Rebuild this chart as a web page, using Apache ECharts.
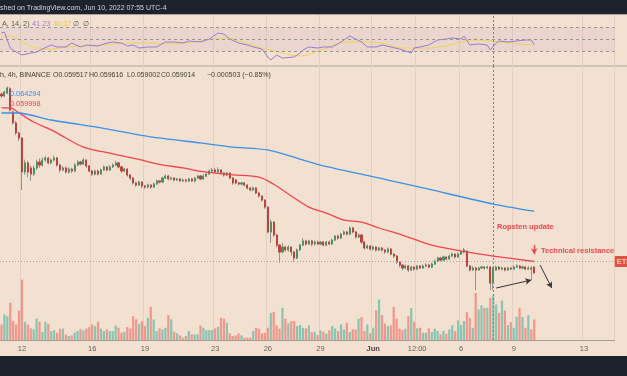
<!DOCTYPE html>
<html>
<head>
<meta charset="utf-8">
<script src="https://cdn.jsdelivr.net/npm/echarts@6/dist/echarts.min.js"></script>
<style>
  html, body { margin: 0; padding: 0; background: #f2e0d1; }
  #chart { width: 627px; height: 376px; }
</style>
</head>
<body>
<div id="chart"></div>
<script>
// ETH/BTC 4h, Binance. One category per 4h bar, first bar 2022-05-10 20:00 (UTC-4)
const N_CAT = 210;
const categories = [];
for (let i = 0; i < N_CAT; i++) {
  const d = new Date(Date.UTC(2022, 4, 10, 20) + i * 4 * 3600 * 1000);
  categories.push((d.getUTCMonth() + 1) + '/' + d.getUTCDate() + ' ' + d.getUTCHours() + ':00');
}
const tickIndex = [7, 31, 49, 73, 91, 109, 127, 142, 157, 175, 199];
const tickText = ['12', '16', '19', '23', '26', '29', 'Jun', '12:00', '6', '9', '13'];

// [open, close, low, high]
const ohlc = [
  [0.07430,0.07415,0.07400,0.07445],[0.07415,0.07449,0.07405,0.07460],[0.07440,0.07483,0.07430,0.07495],
  [0.07475,0.07295,0.07280,0.07490],[0.07278,0.07184,0.07170,0.07290],[0.07184,0.07098,0.07080,0.07200],
  [0.07098,0.07055,0.07030,0.07110],[0.07055,0.06765,0.06611,0.07060],[0.06765,0.06842,0.06740,0.06870],
  [0.06842,0.06765,0.06720,0.06860],[0.06799,0.06747,0.06690,0.06820],[0.06747,0.06799,0.06730,0.06820],
  [0.06799,0.06850,0.06780,0.06870],[0.06850,0.06824,0.06800,0.06880],[0.06824,0.06867,0.06810,0.06890],
  [0.06867,0.06884,0.06850,0.06900],[0.06884,0.06842,0.06830,0.06895],[0.06842,0.06867,0.06830,0.06880],
  [0.06867,0.06884,0.06855,0.06905],[0.06884,0.06824,0.06810,0.06895],[0.06824,0.06782,0.06760,0.06835],
  [0.06782,0.06799,0.06770,0.06815],[0.06799,0.06765,0.06750,0.06810],[0.06765,0.06790,0.06750,0.06805],
  [0.06790,0.06773,0.06755,0.06800],[0.06773,0.06824,0.06765,0.06840],[0.06824,0.06850,0.06815,0.06865],
  [0.06850,0.06833,0.06820,0.06860],[0.06833,0.06867,0.06825,0.06885],[0.06867,0.06816,0.06800,0.06875],
  [0.06816,0.06773,0.06760,0.06825],[0.06773,0.06747,0.06730,0.06785],[0.06747,0.06773,0.06735,0.06785],
  [0.06773,0.06747,0.06735,0.06785],[0.06747,0.06782,0.06740,0.06795],[0.06782,0.06808,0.06775,0.06820],
  [0.06808,0.06782,0.06770,0.06815],[0.06782,0.06808,0.06775,0.06825],[0.06808,0.06824,0.06800,0.06840],
  [0.06824,0.06842,0.06815,0.06860],[0.06842,0.06808,0.06795,0.06850],[0.06808,0.06773,0.06760,0.06815],
  [0.06773,0.06790,0.06765,0.06800],[0.06790,0.06739,0.06725,0.06795],[0.06739,0.06713,0.06695,0.06745],
  [0.06713,0.06671,0.06655,0.06720],[0.06671,0.06653,0.06640,0.06680],[0.06653,0.06679,0.06645,0.06690],
  [0.06679,0.06645,0.06625,0.06685],[0.06645,0.06636,0.06620,0.06655],[0.06636,0.06653,0.06625,0.06665],
  [0.06653,0.06636,0.06620,0.06660],[0.06636,0.06662,0.06630,0.06675],[0.06662,0.06688,0.06655,0.06700],
  [0.06688,0.06679,0.06665,0.06695],[0.06679,0.06713,0.06670,0.06725],[0.06713,0.06730,0.06705,0.06745],
  [0.06730,0.06705,0.06695,0.06740],[0.06705,0.06713,0.06695,0.06725],[0.06713,0.06696,0.06685,0.06720],
  [0.06696,0.06705,0.06690,0.06715],[0.06705,0.06688,0.06680,0.06715],[0.06688,0.06696,0.06680,0.06710],
  [0.06696,0.06688,0.06675,0.06705],[0.06688,0.06705,0.06680,0.06715],[0.06705,0.06688,0.06680,0.06715],
  [0.06688,0.06713,0.06680,0.06720],[0.06713,0.06730,0.06705,0.06740],[0.06730,0.06705,0.06695,0.06740],
  [0.06705,0.06730,0.06700,0.06745],[0.06730,0.06747,0.06720,0.06760],[0.06747,0.06773,0.06740,0.06785],
  [0.06773,0.06782,0.06765,0.06800],[0.06782,0.06765,0.06755,0.06800],[0.06765,0.06782,0.06755,0.06805],
  [0.06782,0.06756,0.06745,0.06790],[0.06756,0.06739,0.06725,0.06765],[0.06739,0.06756,0.06730,0.06765],
  [0.06756,0.06713,0.06705,0.06760],[0.06713,0.06671,0.06655,0.06720],[0.06696,0.06671,0.06660,0.06705],
  [0.06671,0.06662,0.06650,0.06680],[0.06662,0.06671,0.06650,0.06680],[0.06671,0.06653,0.06640,0.06680],
  [0.06653,0.06628,0.06615,0.06660],[0.06628,0.06611,0.06600,0.06635],[0.06611,0.06628,0.06600,0.06640],
  [0.06628,0.06585,0.06575,0.06635],[0.06585,0.06559,0.06545,0.06595],[0.06559,0.06525,0.06510,0.06565],
  [0.06525,0.06465,0.06450,0.06530],[0.06465,0.06252,0.06240,0.06470],[0.06252,0.06337,0.06158,0.06360],
  [0.06337,0.06226,0.06210,0.06345],[0.06226,0.06140,0.06120,0.06235],[0.06140,0.06081,0.05987,0.06150],
  [0.06081,0.06123,0.06070,0.06160],[0.06123,0.06098,0.06085,0.06135],[0.06098,0.06123,0.06085,0.06140],
  [0.06123,0.06081,0.06050,0.06130],[0.06081,0.06029,0.06000,0.06090],[0.06029,0.06098,0.06020,0.06110],
  [0.06098,0.06140,0.06090,0.06150],[0.06140,0.06175,0.06130,0.06200],[0.06175,0.06149,0.06135,0.06185],
  [0.06149,0.06175,0.06140,0.06185],[0.06175,0.06149,0.06130,0.06185],[0.06149,0.06166,0.06135,0.06180],
  [0.06166,0.06149,0.06140,0.06180],[0.06149,0.06166,0.06140,0.06175],[0.06166,0.06140,0.06130,0.06175],
  [0.06140,0.06166,0.06130,0.06175],[0.06166,0.06149,0.06140,0.06180],[0.06149,0.06183,0.06140,0.06195],
  [0.06183,0.06217,0.06175,0.06225],[0.06217,0.06200,0.06185,0.06230],[0.06200,0.06234,0.06190,0.06245],
  [0.06234,0.06252,0.06225,0.06265],[0.06252,0.06234,0.06220,0.06260],[0.06234,0.06286,0.06225,0.06300],
  [0.06286,0.06252,0.06240,0.06295],[0.06252,0.06209,0.06195,0.06260],[0.06209,0.06226,0.06200,0.06240],
  [0.06226,0.06166,0.06150,0.06235],[0.06166,0.06115,0.06100,0.06175],[0.06115,0.06132,0.06105,0.06145],
  [0.06132,0.06106,0.06095,0.06140],[0.06106,0.06123,0.06095,0.06135],[0.06123,0.06098,0.06085,0.06130],
  [0.06098,0.06115,0.06090,0.06125],[0.06115,0.06098,0.06085,0.06125],[0.06098,0.06081,0.06065,0.06105],
  [0.06081,0.06106,0.06070,0.06120],[0.06106,0.06063,0.06050,0.06115],[0.06063,0.06046,0.06030,0.06070],
  [0.06046,0.05995,0.05980,0.06055],[0.05995,0.05969,0.05950,0.06000],[0.05969,0.05944,0.05925,0.05975],
  [0.05944,0.05961,0.05935,0.05975],[0.05961,0.05927,0.05910,0.05970],[0.05927,0.05952,0.05920,0.05965],
  [0.05952,0.05935,0.05920,0.05960],[0.05935,0.05961,0.05925,0.05970],[0.05961,0.05944,0.05935,0.05970],
  [0.05944,0.05961,0.05935,0.05975],[0.05961,0.05969,0.05950,0.05985],[0.05969,0.05952,0.05940,0.05980],
  [0.05952,0.05978,0.05945,0.05990],[0.05978,0.06004,0.05970,0.06015],[0.06004,0.06029,0.05995,0.06040],
  [0.06029,0.06012,0.06000,0.06040],[0.06012,0.06038,0.06005,0.06050],[0.06038,0.06021,0.06010,0.06045],
  [0.06021,0.06046,0.06015,0.06060],[0.06046,0.06063,0.06035,0.06075],[0.06063,0.06038,0.06025,0.06070],
  [0.06038,0.06063,0.06030,0.06075],[0.06063,0.06081,0.06055,0.06095],[0.06081,0.06098,0.06070,0.06115],
  [0.06089,0.05961,0.05950,0.06095],[0.05961,0.05927,0.05915,0.05970],[0.05927,0.05944,0.05920,0.05960],
  [0.05944,0.05927,0.05756,0.05955],[0.05927,0.05944,0.05920,0.05955],[0.05944,0.05952,0.05935,0.05965],
  [0.05952,0.05944,0.05930,0.05960],[0.05944,0.05952,0.05935,0.05965],[0.05952,0.05815,0.05756,0.05960],
  [0.05815,0.05944,0.05756,0.05955],[0.05927,0.05952,0.05920,0.05965],[0.05952,0.05935,0.05925,0.05960],
  [0.05935,0.05944,0.05925,0.05955],[0.05944,0.05927,0.05915,0.05950],[0.05927,0.05944,0.05920,0.05955],
  [0.05944,0.05935,0.05925,0.05950],[0.05935,0.05952,0.05930,0.05965],[0.05952,0.05961,0.05945,0.05975],
  [0.05961,0.05944,0.05935,0.05970],[0.05944,0.05952,0.05935,0.05965],[0.05952,0.05935,0.05925,0.05960],
  [0.05935,0.05944,0.05930,0.05960],[0.05944,0.05935,0.05841,0.05960],[0.059517,0.059014,0.059002,0.059616]
];

// volume per bar (k ETH)
const volumes = [
  47,77,72,112,57,47,89,182,55,47, 35,32,64,55,24,55,49,27,30,22,
  34,34,17,12,14,22,27,32,29,34, 39,47,42,55,34,27,32,27,27,44,
  37,22,25,39,34,72,62,49,57,42, 67,100,62,27,35,32,37,75,62,25,
  20,14,7,12,27,17,17,17,44,37, 30,30,30,35,40,67,64,52,20,12,
  14,20,14,7,7,7,27,37,34,20, 22,37,82,85,44,34,97,64,50,57,
  57,42,
  45,37,35,44,24,25,15,29,25,19, 29,42,35,27,47,32,52,24,32,32,
  64,69,27,47,20,37,90,122,75,49, 42,44,100,64,34,30,34,72,96,55,
  35,37,22,22,35,24,34,27,17,27, 19,32,44,27,59,45,57,84,67,37,
  142,92,105,97,97,127,135,107,82,119, 89,45,54,37,70,97,69,37,75,32,
  62
];

// RSI(14) and its SMA, [bar index, value]
const rsi = [
  [0,60.5],[1,62],[3,35.5],[5,28.8],[7,23.8],[10,27.2],[12,28.8],[14,33.8],[17,40.5],[19,37.2],
  [22,37.2],[24,43.8],[27,37.2],[29,40.5],[33,38.8],[36,43.8],[38,45.5],[41,43.8],[43,38.8],[45,40.5],
  [47,35.5],[50,37.2],[53,37.2],[56,45.5],[59,45.5],[62,43.8],[64,47.2],[68,45.5],[71,50.5],[72,53.8],
  [74,60.5],[76,58.8],[78,50.5],[81,43.8],[84,40.5],[86,37.2],[89,33.8],[91,20.5],[92,15.5],[94,23.8],
  [96,18.8],[100,20.5],[102,27.2],[103,32.2],[105,37.2],[108,35.5],[110,37.2],[113,37.2],[116,45.5],[119,55.5],
  [121,50.5],[123,45.5],[125,37.2],[128,37.2],[130,40.5],[133,37.2],[136,33.8],[140,27.2],[141,35.5],[143,37.2],
  [146,40.5],[149,48.8],[152,50.5],[154,52.2],[157,50.5],[158,55.5],[160,40.5],[163,42.2],[166,40.5],[167,32.2],
  [169,43.8],[170,47.2],[173,45.5],[176,47.2],[179,48.8],[181,48.8],[182,41.23]
];
const rsiMa = [
  [0,52.2],[3,55.5],[6,48.8],[11,37.2],[17,33.8],[22,37.2],[34,40.5],[43,43.8],[51,43.8],[57,42.2],
  [63,43.8],[70,48.8],[77,52.2],[82,45.5],[89,35.5],[96,27.2],[102,22.2],[109,32.2],[116,43.8],[122,45.5],
  [130,43.8],[137,35.5],[144,35.5],[150,37.2],[157,45.5],[161,48.8],[167,47.2],[173,43.8],[182,40.07]
];

// moving averages, [bar index, price]
const ema50 = [
  [0,0.07312],[3,0.07312],[6,0.07269],[11,0.07192],[17,0.07124],[22,0.07055],[28,0.06978],[34,0.06940],
  [45,0.06884],[54,0.06830],[62,0.06799],[68,0.06770],[79,0.06740],[88,0.06720],[93,0.06660],[99,0.06560],
  [105,0.06465],[111,0.06414],[117,0.06354],[123,0.06337],[129,0.06286],[136,0.06234],[147,0.06140],
  [159,0.06081],[168,0.06046],[182,0.059998]
];
const ema200 = [
  [0,0.07269],[6,0.07269],[17,0.07209],[34,0.07141],[51,0.07064],[68,0.07013],[79,0.06978],[91,0.06953],
  [109,0.06824],[132,0.06696],[147,0.06611],[168,0.06491],[182,0.064294]
];

const lastClose = 0.059014;
const eventBar = 168;   // Ropsten update

const UP = '#4c9067', DOWN = '#bb433a';
const VUP = '#86c5b1', VDOWN = '#f3958a';
const FONT = 'Liberation Sans';
const TXT = '#45413e';

const bodies = ohlc.map(d => [d[0], d[1], Math.min(d[0], d[1]), Math.max(d[0], d[1])]);
const volData = volumes.map((v, i) => ({
  value: v,
  itemStyle: { color: ohlc[i] && ohlc[i][1] >= ohlc[i][0] ? VUP : VDOWN },
}));
const isTick = i => tickIndex.indexOf(i) >= 0;

function label(x, y, text, fill, extra) {
  return { type: 'text', x: x, y: y, z: 10,
    style: Object.assign({ text: text, fill: fill, fontSize: 7, fontFamily: FONT, verticalAlign: 'middle' }, extra || {}) };
}

const chart = echarts.init(document.getElementById('chart'), null, { renderer: 'canvas' });

chart.setOption({
  backgroundColor: '#f2e0d1',
  animation: false,
  grid: [
    { left: 0, right: 12.3, top: 66, bottom: 36 },   // price
    { left: 0, right: 12.3, top: 15, height: 51 },   // rsi
    { left: 0, right: 12.3, top: 279, bottom: 36 },  // volume
  ],
  xAxis: [
    {
      type: 'category', gridIndex: 0, data: categories,
      axisLine: { lineStyle: { color: '#a59d96', width: 1 } },
      axisTick: { show: false },
      axisLabel: {
        interval: (i) => isTick(i), margin: 5,
        color: '#67625e', fontSize: 7.5, fontFamily: FONT,
        formatter: (v, i) => {
          const t = tickText[tickIndex.indexOf(i)];
          return t === 'Jun' ? '{b|Jun}' : t;
        },
        rich: { b: { fontWeight: 'bold', color: '#4a4541', fontSize: 7.5, fontFamily: FONT } },
      },
      splitLine: { show: true, interval: (i) => isTick(i), lineStyle: { color: 'rgba(228,208,194,1)', width: 1 } },
    },
    {
      type: 'category', gridIndex: 1, data: categories,
      axisLine: { show: false }, axisTick: { show: false }, axisLabel: { show: false },
      splitLine: { show: true, interval: (i) => isTick(i), lineStyle: { color: 'rgba(228,208,194,1)', width: 1 } },
    },
    {
      type: 'category', gridIndex: 2, data: categories,
      axisLine: { show: false }, axisTick: { show: false }, axisLabel: { show: false }, splitLine: { show: false },
    },
  ],
  yAxis: [
    { type: 'value', gridIndex: 0, min: 0.053287, max: 0.076706, show: false },
    { type: 'value', gridIndex: 1, min: 5.5, max: 90.5, show: false },
    { type: 'value', gridIndex: 2, min: 0, max: 184, show: false },
  ],
  series: [
    {
      name: 'Volume', type: 'bar', xAxisIndex: 2, yAxisIndex: 2,
      data: volData, barWidth: 2.2, z: 1,
    },
    {
      name: 'wicks', type: 'candlestick', xAxisIndex: 0, yAxisIndex: 0,
      data: ohlc, barWidth: 1.6, z: 2,
      itemStyle: { color: '#969391', color0: '#969391', borderColor: '#969391', borderColor0: '#969391', borderWidth: 1 },
      markLine: {
        silent: true, symbol: ['none', 'none'],
        data: [
          {
            yAxis: lastClose,
            lineStyle: { type: [1, 2], color: '#a8a099', width: 1 },
            label: {
              show: true, position: 'end', distance: 0, formatter: 'ETHBTC',
              backgroundColor: '#e0513f', color: '#fff', fontSize: 7.5, fontFamily: FONT,
              padding: [2, 2, 1, 2], borderRadius: 1,
            },
          },
          {
            xAxis: categories[eventBar],
            lineStyle: { type: [2, 2], color: '#f0505c', width: 1 },
            label: { show: false },
          },
        ],
      },
    },
    {
      name: 'ETHBTC', type: 'candlestick', xAxisIndex: 0, yAxisIndex: 0,
      data: bodies, barWidth: 1.6, z: 3,
      itemStyle: { color: UP, color0: DOWN, borderColor: UP, borderColor0: DOWN, borderWidth: 1 },
    },
    {
      name: 'EMA 50', type: 'line', xAxisIndex: 0, yAxisIndex: 0,
      data: ema50, smooth: 0.3, showSymbol: false, z: 4,
      lineStyle: { color: '#f2434f', width: 1.3 },
    },
    {
      name: 'EMA 200', type: 'line', xAxisIndex: 0, yAxisIndex: 0,
      data: ema200, smooth: 0.2, showSymbol: false, z: 4,
      lineStyle: { color: '#3a90ea', width: 1.3 },
    },
    {
      name: 'annotations', type: 'line', xAxisIndex: 0, yAxisIndex: 0, data: [], z: 5,
      markLine: {
        silent: true, symbol: ['none', 'arrow'], symbolSize: [5, 6], label: { show: false },
        data: [
          [{ coord: [categories[169], 0.05773], lineStyle: { color: '#333', width: 1, type: 'solid' } },
           { coord: [categories[181], 0.05841] }],
          [{ coord: [categories[184], 0.05969], lineStyle: { color: '#333', width: 1, type: 'solid' } },
           { coord: [categories[188], 0.05773] }],
          [{ coord: [categories[182], 0.06142], lineStyle: { color: '#f0454f', width: 1.3, type: 'solid' } },
           { coord: [categories[182], 0.06062] }],
        ],
      },
    },
    {
      name: 'RSI', type: 'line', xAxisIndex: 1, yAxisIndex: 1,
      data: rsi, showSymbol: false, z: 4,
      lineStyle: { color: '#9a7bd6', width: 1 },
      markArea: {
        silent: true, itemStyle: { color: 'rgba(150,100,190,0.08)' },
        data: [[{ yAxis: 30 }, { yAxis: 70 }]],
      },
      markLine: {
        silent: true, symbol: ['none', 'none'], label: { show: false },
        data: [
          { yAxis: 70, lineStyle: { type: [3, 3], color: '#9c948e', width: 1 } },
          { yAxis: 50, lineStyle: { type: [3, 3], color: '#9c948e', width: 1 } },
          { yAxis: 30, lineStyle: { type: [3, 3], color: '#9c948e', width: 1 } },
          { xAxis: categories[eventBar], lineStyle: { type: [2, 2], color: '#f0505c', width: 1 } },
        ],
      },
    },
    {
      name: 'RSI MA', type: 'line', xAxisIndex: 1, yAxisIndex: 1,
      data: rsiMa, smooth: 0.4, showSymbol: false, z: 3,
      lineStyle: { color: '#f0d455', width: 1 },
    },
  ],
  graphic: [
    { type: 'rect', shape: { x: 0, y: 0, width: 627, height: 14 }, style: { fill: '#1e222d' } },
    { type: 'line', shape: { x1: 0, y1: 14.5, x2: 627, y2: 14.5 }, style: { stroke: '#aaa39c', lineWidth: 1 } },
    { type: 'line', shape: { x1: 0, y1: 66, x2: 627, y2: 66 }, style: { stroke: '#a9a29b', lineWidth: 1 } },
    { type: 'rect', shape: { x: 0, y: 356, width: 627, height: 20 }, style: { fill: '#1e222d' } },
    label(0, 8, 'shed on TradingView.com, Jun 10, 2022 07:55 UTC-4', '#d1d4dc'),

    label(2, 24, 'A, 14, 2)', '#5e5954', { fontSize: 7.3 }),
    label(32, 24, '41.23', '#9a7bd6', { fontSize: 7.3 }),
    label(53, 24, '40.07', '#e8c945', { fontSize: 7.3 }),
    label(73, 24, '∅  ∅', '#5e5954', { fontSize: 7.3 }),

    label(0, 75, 'h, 4h, BINANCE', TXT),
    label(53, 75, 'O0.059517', TXT),
    label(89, 75, 'H0.059616', TXT),
    label(127, 75, 'L0.059002', TXT),
    label(161, 75, 'C0.059014', TXT),
    label(207, 75, '−0.000503 (−0.85%)', TXT),

    label(10, 94, '0.064294', '#3a90ea', { fontSize: 7.3 }),
    label(10, 104, '0.059998', '#f2434f', { fontSize: 7.3 }),

    label(497, 227, 'Ropsten update', '#f0454f', { fontSize: 7.5, fontWeight: 'bold' }),
    label(541, 251, 'Technical resistance', '#f0454f', { fontSize: 7.5, fontWeight: 'bold' }),
  ],
});
</script>
</body>
</html>
